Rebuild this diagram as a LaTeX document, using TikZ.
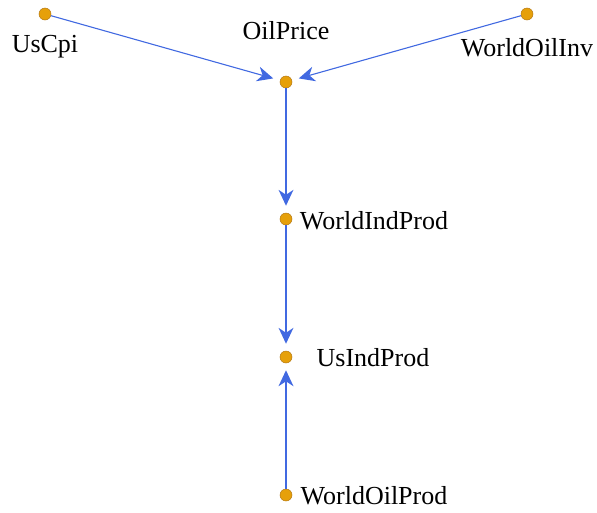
\documentclass[tikz,border=0pt]{standalone}
\usepackage{fontspec}
\setmainfont{Liberation Serif}
\usetikzlibrary{decorations.markings}
\definecolor{vfill}{RGB}{230,160,10}
\definecolor{vdraw}{RGB}{180,120,20}
\definecolor{edgec}{RGB}{65,105,225}
\begin{document}
\begin{tikzpicture}[
  vtx/.style={circle,fill=vfill,draw=vdraw,line width=0.5pt,inner sep=0pt,minimum size=12pt},
  lbl/.style={font=\fontsize{26}{30}\selectfont,inner sep=0pt},
  conn/.style={draw=edgec,line width=1.1pt,shorten >=9pt,
    postaction={decorate,decoration={markings,
      mark=at position -7pt with {\fill[edgec] (0pt,0pt) -- (-16pt,7.5pt) -- (-11pt,0pt) -- (-16pt,-7.5pt) -- cycle;}}}}]
\useasboundingbox (0pt,0pt) rectangle (597pt,-512pt);
\node[vtx] (uscpi) at (45pt,-14pt) {};
\node[vtx] (oil) at (286pt,-82pt) {};
\node[vtx] (woi) at (527pt,-14pt) {};
\node[vtx] (wip) at (286pt,-219pt) {};
\node[vtx] (uip) at (286pt,-357pt) {};
\node[vtx] (wop) at (286pt,-495pt) {};
\node[lbl] (l1) at (45pt,-47pt) {UsCpi};
\node[lbl] (l2) at (286pt,-31pt) {OilPrice};
\node[lbl] (l3) at (527pt,-48pt) {WorldOilInv};
\node[lbl] (l4) at (374pt,-221pt) {WorldIndProd};
\node[lbl] (l5) at (373pt,-358pt) {UsIndProd};
\node[lbl] (l6) at (374pt,-496pt) {WorldOilProd};
\draw[conn] (uscpi) -- (oil);
\draw[conn] (woi) -- (oil);
\draw[conn] (oil) -- (wip);
\draw[conn] (wip) -- (uip);
\draw[conn] (wop) -- (uip);
\end{tikzpicture}
\end{document}
